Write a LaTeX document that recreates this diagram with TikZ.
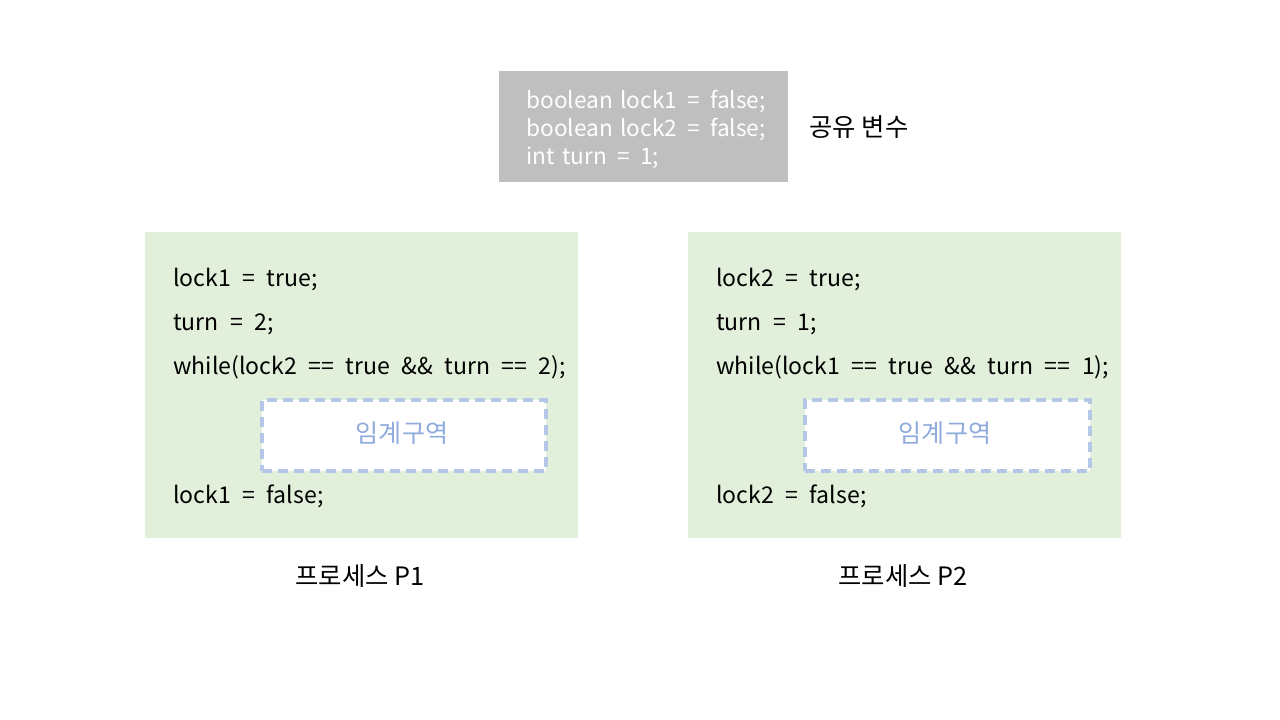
\documentclass[tikz,border=0pt]{standalone}
\usepackage{fontspec}
\setmainfont{Noto Sans CJK KR}
\newcommand{\csp}{\hspace{0.5em}}
\newcommand{\gsp}{\hspace{0.33em}}
\newcommand{\wsp}{\hspace{0.45em}}
\begin{document}
\begin{tikzpicture}[x=0.75pt,y=-0.75pt,
  code/.style={anchor=west,inner sep=0pt,font=\fontsize{17.3}{18}\selectfont,text=black},
  procbox/.style={fill={rgb,255:red,226;green,239;blue,218},draw=none},
  critbox/.style={fill=white,draw={rgb,255:red,180;green,199;blue,231},line width=3pt,dash pattern=on 7.5pt off 4.5pt},
  crittext/.style={inner sep=0pt,text={rgb,255:red,143;green,170;blue,220},font=\fontsize{18.8}{20}\selectfont},
  label/.style={inner sep=0pt,font=\fontsize{19}{20}\selectfont}]
\useasboundingbox (0,0) rectangle (1280,720);
% shared variables
\node[fill={rgb,255:red,191;green,191;blue,191},minimum width=289*0.75pt,minimum height=111*0.75pt,anchor=north west,inner sep=0pt] (shared) at (499,71) {};
\node[anchor=west,inner sep=0pt,text=white,font=\fontsize{17}{21}\selectfont,align=left] (vars) at (526,129) {boolean\gsp lock1\wsp=\wsp false;\\boolean\gsp lock2\wsp=\wsp false;\\int\gsp turn\wsp=\wsp 1;};
\node[label] (sharedlbl) at (859,127) {공유 변수};
% P1
\node[procbox,minimum width=433*0.75pt,minimum height=306*0.75pt,anchor=north west,inner sep=0pt] (p1) at (145,232) {};
\node[code] (a1) at (173,280) {lock1\csp=\csp true;};
\node[code] (a2) at (173,324) {turn\csp=\csp 2;};
\node[code] (a3) at (173,367) {while(lock2\csp==\csp true\csp\&\&\csp turn\csp==\csp 2);};
\node[critbox,minimum width=284*0.75pt,minimum height=71*0.75pt,anchor=north west,inner sep=0pt] (c1) at (260,398) {};
\node[crittext] (c1t) at (402,433) {임계구역};
\node[code] (a4) at (173,496) {lock1\csp=\csp false;};
\node[label] (l1) at (360,576) {프로세스 P1};
% P2
\node[procbox,minimum width=433*0.75pt,minimum height=306*0.75pt,anchor=north west,inner sep=0pt] (p2) at (688,232) {};
\node[code] (b1) at (716,280) {lock2\csp=\csp true;};
\node[code] (b2) at (716,324) {turn\csp=\csp 1;};
\node[code] (b3) at (716,367) {while(lock1\csp==\csp true\csp\&\&\csp turn\csp==\csp 1);};
\node[critbox,minimum width=285*0.75pt,minimum height=71*0.75pt,anchor=north west,inner sep=0pt] (c2) at (803,398) {};
\node[crittext] (c2t) at (945,433) {임계구역};
\node[code] (b4) at (716,496) {lock2\csp=\csp false;};
\node[label] (l2) at (903,576) {프로세스 P2};
\end{tikzpicture}
\end{document}
